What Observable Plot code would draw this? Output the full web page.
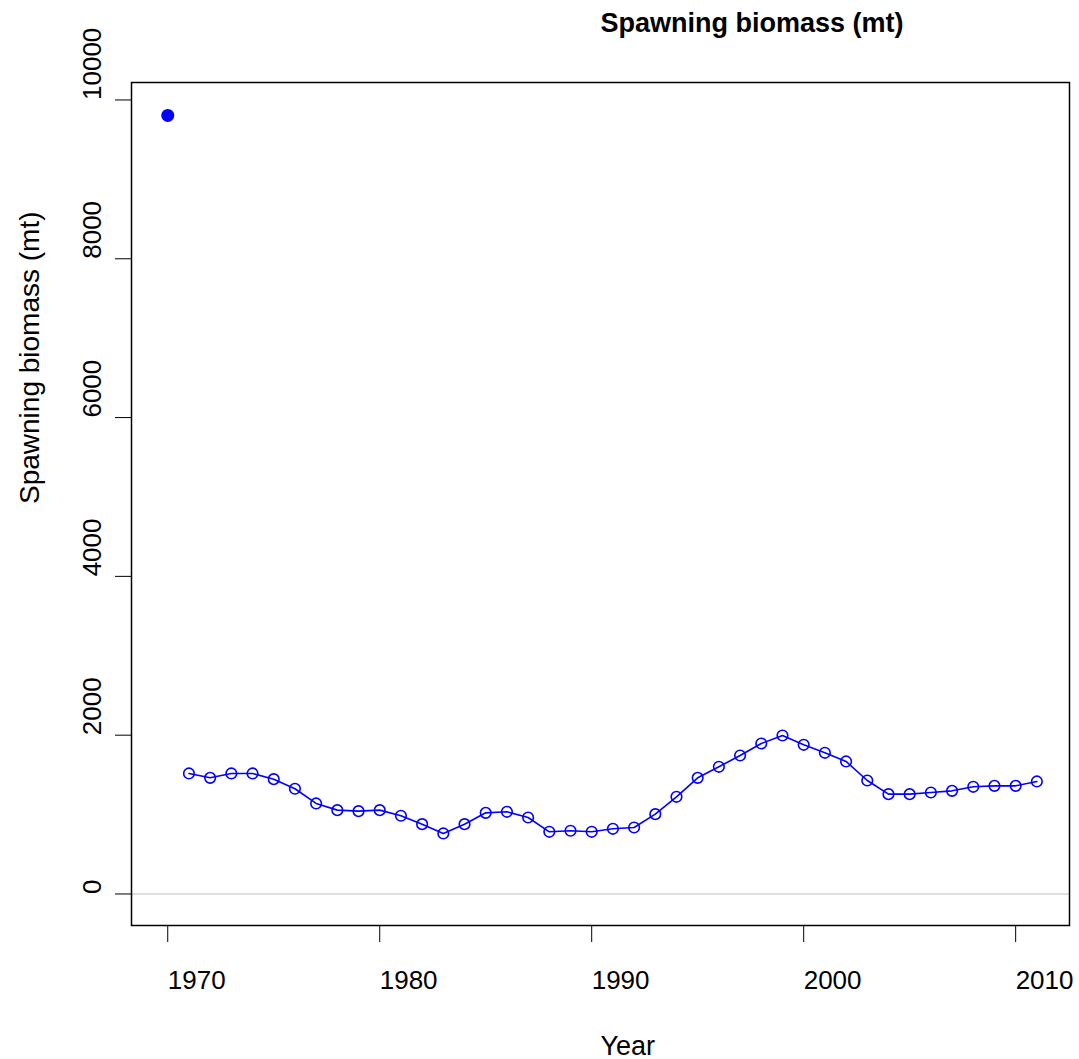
<!DOCTYPE html>
<html>
<head>
<meta charset="utf-8">
<script src="https://cdn.jsdelivr.net/npm/d3@7"></script>
<script src="https://cdn.jsdelivr.net/npm/@observablehq/plot@0.6"></script>
<style>
  html, body { margin: 0; padding: 0; background: #fff; }
</style>
</head>
<body>
<div id="chart"></div>
<script>
const titleText = "Spawning biomass (mt)";
const xLabel = "Year";
const yLabel = "Spawning biomass (mt)";

const virginYear = [1970];
const virginValue = [9805];

const years = [1971, 1972, 1973, 1974, 1975, 1976, 1977, 1978, 1979, 1980,
               1981, 1982, 1983, 1984, 1985, 1986, 1987, 1988, 1989, 1990,
               1991, 1992, 1993, 1994, 1995, 1996, 1997, 1998, 1999, 2000,
               2001, 2002, 2003, 2004, 2005, 2006, 2007, 2008, 2009, 2010, 2011];
const biomass = [1518, 1463, 1518, 1518, 1446, 1325, 1140, 1056, 1043, 1056,
                 985, 879, 762, 879, 1022, 1035, 963, 783, 796, 783,
                 821, 837, 1005, 1224, 1463, 1602, 1744, 1895, 1996, 1879,
                 1778, 1669, 1429, 1257, 1257, 1278, 1299, 1350, 1362, 1362, 1417];

const xTicks = [1970, 1980, 1990, 2000, 2010];
const yTicks = [0, 2000, 4000, 6000, 8000, 10000];

const series = years.map((yr, i) => ({year: yr, value: biomass[i]}));
const virgin = virginYear.map((yr, i) => ({year: yr, value: virginValue[i]}));

const blue = "#0000ff";
const font = "'Liberation Sans', Arial, Helvetica, sans-serif";

const chart = Plot.plot({
  width: 1079,
  height: 1059,
  marginLeft: 131,
  marginRight: 10,
  marginTop: 82,
  marginBottom: 134,
  style: {fontFamily: font, fontSize: "26px", color: "black", background: "white"},
  x: {domain: [1968.29, 2012.54], ticks: xTicks, tickFormat: d => String(d)},
  y: {domain: [-397, 10220], ticks: yTicks, tickFormat: d => String(d)},
  marks: [
    Plot.ruleY([0], {stroke: "#bebebe", strokeWidth: 1.2}),
    Plot.line(series, {x: "year", y: "value", stroke: blue, strokeWidth: 1.6}),
    Plot.dot(series, {x: "year", y: "value", r: 5.3, stroke: blue, strokeWidth: 1.6, fill: "none"}),
    Plot.dot(virgin, {x: "year", y: "value", r: 6.5, fill: blue, stroke: "none"}),
    Plot.frame({stroke: "black", strokeWidth: 1.5}),
    Plot.axisX({ticks: xTicks, tickFormat: d => String(d), tickSize: 17, tickPadding: 28,
                textAnchor: "start", lineAnchor: "top", fontSize: 26, label: null, strokeWidth: 1}),
    Plot.axisY({ticks: yTicks, tickSize: 16, text: null, label: null, strokeWidth: 1}),
    Plot.axisY({ticks: yTicks, tickFormat: d => String(d), tickSize: 0, tickPadding: 31,
                rotate: -90, textAnchor: "start", lineAnchor: "bottom", fontSize: 26, label: null}),
    Plot.text([titleText], {text: d => d, frameAnchor: "top", dy: -51, textAnchor: "start",
                lineAnchor: "bottom", fontSize: 27, fontWeight: "bold", fill: "black"}),
    Plot.text([xLabel], {text: d => d, frameAnchor: "bottom", dy: 129, textAnchor: "start",
                lineAnchor: "bottom", fontSize: 27, fill: "black"}),
    Plot.text([yLabel], {text: d => d, frameAnchor: "left", dx: -93, rotate: -90, textAnchor: "start",
                lineAnchor: "bottom", fontSize: 28, fill: "black"})
  ]
});
document.getElementById("chart").appendChild(chart);
</script>
</body>
</html>
